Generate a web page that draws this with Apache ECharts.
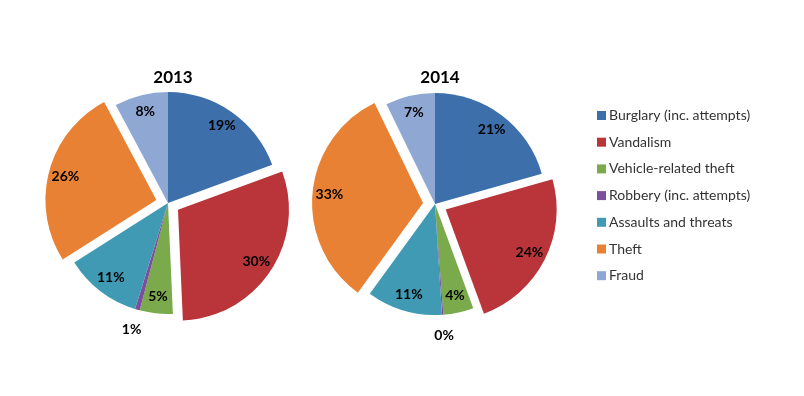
<!DOCTYPE html>
<html>
<head>
<meta charset="utf-8">
<script src="https://cdn.jsdelivr.net/npm/echarts@6/dist/echarts.min.js"></script>
<style>html,body{margin:0;padding:0;background:#fff}#c{width:804px;height:396px}</style>
</head>
<body>
<div id="c"></div>
<script>
const categories = ['Burglary (inc. attempts)','Vandalism','Vehicle-related theft','Robbery (inc. attempts)','Assaults and threats','Theft','Fraud'];
const values2013 = [19.4, 29.9, 4.8, 0.7, 11.2, 26.2, 7.8];
const values2014 = [20.6, 23.8, 4.4, 0.2, 11.0, 32.8, 7.2];
const years = ['2013', '2014'];
const explodedCats = ['Vandalism', 'Theft'];
const outsideLabelCats = ['Robbery (inc. attempts)'];
const colors = ['#3D6FAB','#B93539','#7AAA4C','#7C4F9C','#409AB4','#E98134','#8FA7D3'];

const chart = echarts.init(document.getElementById('c'));
const R = 111;
const centers = [[168, 203], [435, 204]];
const OFFSET = 12;
const fmt = p => Math.round(p.percent) + '%';
const labelStyle = {color:'#000', fontWeight:'bold', fontSize:14, fontFamily:'Lato, "Open Sans", sans-serif'};

function mkData(vals, showFn) {
  return categories.map((c, i) => ({
    name: c, value: vals[i],
    selected: explodedCats.includes(c),
    label: {show: showFn(c)}
  }));
}

const series = [];
[values2013, values2014].forEach((vals, k) => {
  const base = {
    type:'pie', center: centers[k], startAngle: 90, clockwise: true,
    selectedMode: 'multiple', selectedOffset: OFFSET, avoidLabelOverlap: false,
    labelLine: {show:false}, emphasis: {disabled: true}, animation: false
  };
  series.push(Object.assign({}, base, {
    name: years[k], radius: [0, R],
    data: mkData(vals, () => false),
    label: {show:false}
  }));
  series.push(Object.assign({}, base, {
    name: years[k] + '-labels', radius: [R * 0.64, R], silent: true,
    itemStyle: {color: 'rgba(0,0,0,0)'},
    data: mkData(vals, c => !outsideLabelCats.includes(c)),
    label: Object.assign({position:'inside', formatter: fmt}, labelStyle)
  }));
  series.push(Object.assign({}, base, {
    name: years[k] + '-outer', radius: [R, R * 1.32], silent: true,
    itemStyle: {color: 'rgba(0,0,0,0)'},
    data: mkData(vals, c => outsideLabelCats.includes(c)),
    label: Object.assign({position:'inside', formatter: fmt}, labelStyle)
  }));
});

chart.setOption({
  color: colors,
  animation: false,
  title: years.map((y, k) => ({
    text: y, left: centers[k][0], top: 64, textAlign: 'center',
    textStyle: {fontSize: 17, fontWeight: 'bold', color: '#000', fontFamily: 'Lato, "Open Sans", sans-serif'}
  })),
  legend: {
    orient: 'vertical', left: 592, top: 103, itemGap: 11.7,
    itemWidth: 9, itemHeight: 9, icon: 'rect', selectedMode: false,
    data: categories,
    textStyle: {fontSize: 14, lineHeight: 15, color: '#333', fontFamily: 'Lato, "Open Sans", sans-serif', padding: [0,0,0,-2]}
  },
  series: series
});
</script>
</body>
</html>
